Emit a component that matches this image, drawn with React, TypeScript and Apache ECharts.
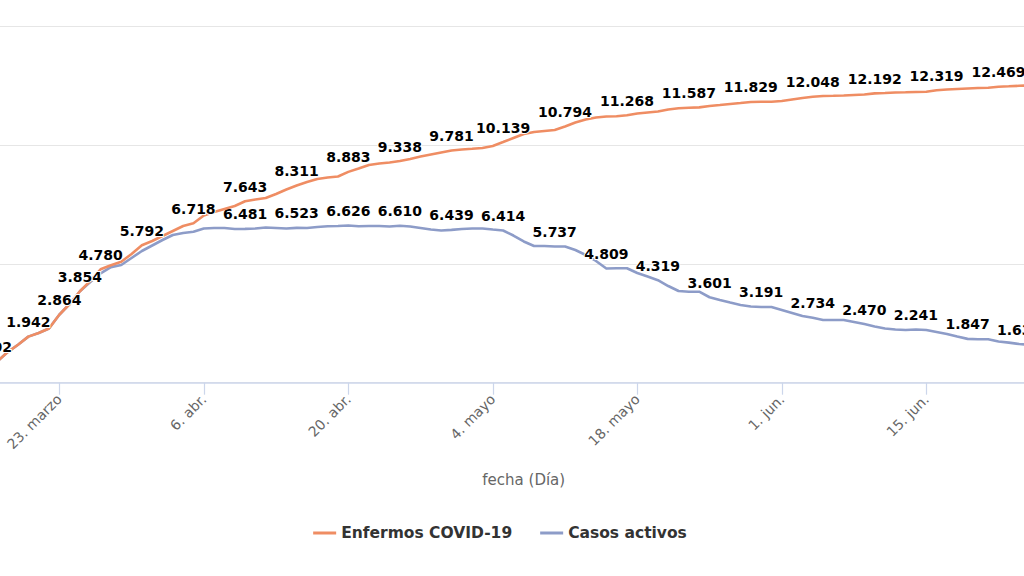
import React, { useEffect, useRef } from "react";
import * as echarts from "echarts";

// Days are counted from 23 March 2020 (day 0). First value is 16 March (day -7).
const firstDay = -7;

const enfermos = [
  750, 902, 1290, 1600, 1942, 2094, 2284, 2864, 3316, 3854,
  4290, 4780, 4950, 5098, 5423, 5792, 5970, 6181, 6392, 6603,
  6718, 7045, 7192, 7319, 7445, 7643, 7719, 7782, 7951, 8140,
  8311, 8457, 8583, 8646, 8688, 8883, 9025, 9173, 9236, 9278,
  9338, 9426, 9531, 9615, 9699, 9781, 9826, 9855, 9889, 9973,
  10139, 10310, 10479, 10563, 10605, 10647, 10794, 10963, 11090, 11174,
  11216, 11229, 11268, 11342, 11385, 11427, 11511, 11562, 11587, 11600,
  11658, 11700, 11743, 11785, 11829, 11836, 11840, 11870, 11933, 11996,
  12048, 12080, 12089, 12101, 12122, 12143, 12192, 12207, 12228, 12236,
  12249, 12261, 12319, 12354, 12375, 12396, 12417, 12426, 12469, 12489,
  12510, 12530,
];

const activos = [
  750, 902, 1290, 1600, 1942, 2094, 2284, 2864, 3316, 3854,
  4243, 4610, 4870, 4959, 5254, 5549, 5781, 6013, 6223, 6308,
  6362, 6497, 6518, 6518, 6476, 6481, 6497, 6539, 6518, 6497,
  6523, 6518, 6560, 6590, 6602, 6626, 6590, 6602, 6602, 6581,
  6610, 6581, 6518, 6455, 6413, 6439, 6476, 6497, 6497, 6455,
  6414, 6202, 5950, 5760, 5760, 5737, 5739, 5591, 5381, 5128,
  4809, 4820, 4820, 4622, 4475, 4319, 4074, 3864, 3834, 3834,
  3601, 3485, 3379, 3274, 3211, 3191, 3190, 3063, 2937, 2810,
  2734, 2642, 2642, 2642, 2558, 2470, 2368, 2284, 2242, 2221,
  2241, 2221, 2136, 2052, 1947, 1847, 1829, 1829, 1736, 1690,
  1630, 1600,
];

const enfermosLabelDays = [-6, -3, 0, 2, 4, 8, 13, 18, 23, 28, 33, 38, 43, 49, 55, 61, 67, 73, 79, 85, 91];
const activosLabelDays = [18, 23, 28, 33, 38, 43, 48, 53, 58, 63, 68, 73, 78, 83, 88, 93];

const tickDays = [0, 14, 28, 42, 56, 70, 84];
const tickLabels = ["23. marzo", "6. abr.", "20. abr.", "4. mayo", "18. mayo", "1. jun.", "15. jun."];

const seriesNames = ["Enfermos COVID-19", "Casos activos"];
const seriesColors = ["#ef8d63", "#8d9cc8"];
const axisTitle = "fecha (Día)";

const FONT = "'DejaVu Sans', sans-serif";

const fmt = (v: number) => String(Math.round(v)).replace(/\B(?=(\d{3})+(?!\d))/g, ".");

const buildData = (values: number[], labelDays: number[]) =>
  values.map((v, i) => {
    const d = firstDay + i;
    return { value: [d, v], label: { show: labelDays.includes(d) } };
  });

export default function App() {
  const ref = useRef<HTMLDivElement>(null);

  useEffect(() => {
    if (!ref.current) return;
    const chart = echarts.init(ref.current, undefined, { renderer: "svg" });

    const labelStyle = {
      position: "top",
      distance: 7,
      color: "#000",
      fontFamily: FONT,
      fontWeight: "bold",
      fontSize: 14,
      textBorderColor: "#fff",
      textBorderWidth: 2,
      formatter: (p: any) => fmt(p.value[1]),
    };

    chart.setOption({
      animation: false,
      backgroundColor: "#fff",
      textStyle: { fontFamily: FONT },
      grid: { left: 64.8, right: 17.3, top: 26.7, bottom: 193.3, containLabel: false },
      legend: {
        left: "center",
        top: 520,
        icon: "path://M0,0 H23 V3 H0 Z",
        itemWidth: 23,
        itemHeight: 3,
        itemGap: 28,
        textStyle: { fontFamily: FONT, fontWeight: "bold", fontSize: 15.5, color: "#333" },
        data: seriesNames,
      },
      xAxis: {
        type: "value",
        min: -14,
        max: 104,
        interval: 14,
        name: axisTitle,
        nameLocation: "middle",
        nameGap: 90,
        nameTextStyle: { fontFamily: FONT, fontSize: 15, color: "#666" },
        axisLine: { show: true, lineStyle: { color: "#ccd6eb", width: 1.5 } },
        axisTick: { show: true, length: 12, lineStyle: { color: "#ccd6eb", width: 1.2 } },
        splitLine: { show: false },
        axisLabel: {
          rotate: 45,
          margin: 14,
          color: "#666",
          fontFamily: FONT,
          fontSize: 14,
          formatter: (v: number) => {
            const i = tickDays.indexOf(Math.round(v));
            return i >= 0 ? tickLabels[i] : "";
          },
        },
      },
      yAxis: {
        type: "value",
        min: 0,
        max: 15000,
        interval: 5000,
        axisLabel: { show: false },
        axisLine: { show: false },
        axisTick: { show: false },
        splitLine: { lineStyle: { color: "#e6e6e6", width: 1.2 } },
      },
      series: [
        {
          name: seriesNames[0],
          type: "line",
          color: seriesColors[0],
          symbol: "circle",
          symbolSize: 1,
          showSymbol: true,
          lineStyle: { width: 2.6, color: seriesColors[0] },
          itemStyle: { color: seriesColors[0] },
          label: labelStyle,
          z: 3,
          data: buildData(enfermos, enfermosLabelDays),
        },
        {
          name: seriesNames[1],
          type: "line",
          color: seriesColors[1],
          symbol: "circle",
          symbolSize: 1,
          showSymbol: true,
          lineStyle: { width: 2.6, color: seriesColors[1] },
          itemStyle: { color: seriesColors[1] },
          label: labelStyle,
          z: 2,
          data: buildData(activos, activosLabelDays),
        },
      ],
    });

    return () => chart.dispose();
  }, []);

  return (
    <div
      style={{
        position: "fixed",
        left: 0,
        top: 0,
        width: 1024,
        height: 576,
        overflow: "hidden",
        background: "#fff",
      }}
    >
      <div ref={ref} style={{ position: "absolute", left: -150, top: 0, width: 1300, height: 576 }} />
    </div>
  );
}
